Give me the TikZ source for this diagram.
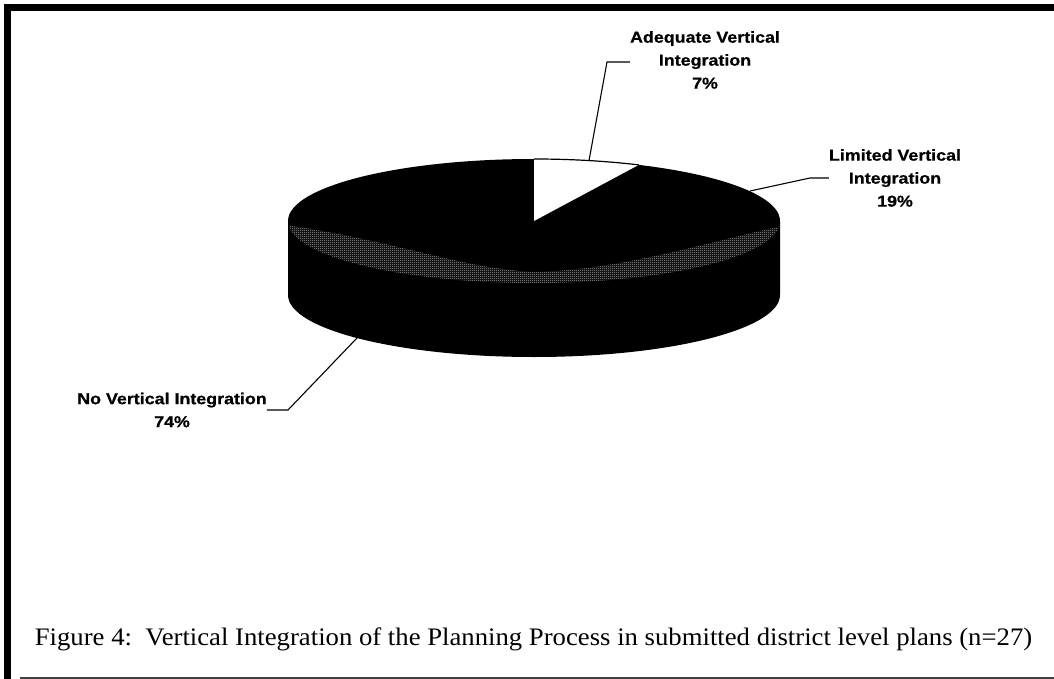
\documentclass[tikz,border=0pt]{standalone}
\usepackage{fontspec}
\setmainfont{Liberation Serif}[FakeStretch=1.06]
\newfontfamily\lblfont{Liberation Sans Bold}[FakeStretch=1.13,FakeBold=0.6]
\usetikzlibrary{patterns}

% fine checkerboard speckle used for the grey texture on the pie top
\pgfdeclarepatternformonly{speckle}{\pgfpointorigin}{\pgfpoint{2pt}{2pt}}{\pgfpoint{2pt}{2pt}}{%
  \pgfpathrectangle{\pgfpointorigin}{\pgfpoint{1pt}{1pt}}%
  \pgfpathrectangle{\pgfpoint{1pt}{1pt}}{\pgfpoint{1pt}{1pt}}%
  \pgfusepath{fill}}

\begin{document}
\begin{tikzpicture}[x=1pt,y=-1pt,
  lbl/.style={font=\lblfont\fontsize{15.8}{23}\selectfont, align=center, inner sep=0pt},
  leader/.style={line width=1.1pt, black},
  rim/.style={x radius=246pt, y radius=62pt}]
\useasboundingbox (0,0) rectangle (1054,679);

% frame
\fill (4,4) rectangle (1054,11);
\fill (4,4) rectangle (11,679);
\fill[black!75] (20,676.5) rectangle (1054,678.5);

% pie: side wall and top face
\coordinate (c) at (534,221);
\fill (288,221) -- (288,295) arc[start angle=180,end angle=360,rim] -- (780,221) -- cycle;
\fill (c) ellipse[rim];

% grey textured band along the front of the top face
\begin{scope}
  \clip (c) ellipse[rim];
  \fill[pattern=speckle, pattern color=gray!65]
    (286,225) .. controls (400,242) and (460,268) .. (534,272)
    .. controls (620,270) and (700,244) .. (782,226)
    -- (782,290) -- (286,290) -- cycle;
\end{scope}

% 7% slice
\fill[white] (c) -- (534,159) arc[start angle=90,end angle=64.8,rim] -- cycle;
\draw[line width=1.2pt] (534,159) arc[start angle=90,end angle=64.8,rim];

% leader anchor points
\coordinate (p7) at (589,160.6);
\coordinate (k7) at (607,62);
\coordinate (p19) at (750,191);
\coordinate (k19) at (810,178);
\coordinate (p74) at (357,338);
\coordinate (k74) at (288,410);

% labels
\node[lbl] (adq) at (705,60) {Adequate Vertical\\Integration\\7\%};
\node[lbl] (lim) at (895,178) {Limited Vertical\\Integration\\19\%};
\node[lbl] (nvi) at (172,410) {No Vertical Integration\\74\%};

\draw[leader] (p7) -- (k7) -- (k7 -| adq.west);
\draw[leader] (p19) -- (k19) -- (k19 -| lim.west);
\draw[leader] (p74) -- (k74) -- (k74 -| nvi.east);

% caption
\node[anchor=base, inner sep=0pt, font=\fontsize{25.2}{30}\selectfont] (cap) at (533.5,645)
  {Figure 4:\ \ Vertical Integration of the Planning Process in submitted district level plans (n=27)};
\end{tikzpicture}
\end{document}
